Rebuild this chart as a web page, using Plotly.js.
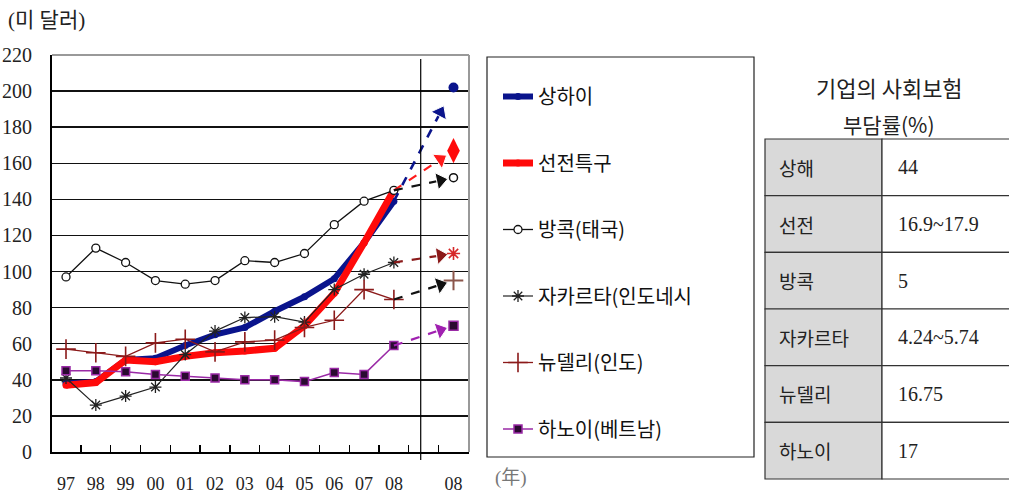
<!DOCTYPE html>
<html><head><meta charset="utf-8">
<script src="https://cdn.plot.ly/plotly-3.0.1.min.js"></script>
<style>html,body{margin:0;padding:0;background:#fff}#chart{width:1009px;height:495px}</style>
</head><body><div id="chart"></div>
<script>
// ---- data ----
const years = ['97','98','99','00','01','02','03','04','05','06','07','08'];
const projLabel = '08';
const seriesNames = ['상하이','선전특구','방콕(태국)','자카르타(인도네시','뉴델리(인도)','하노이(베트남)'];
const shanghai = [38, 39, 51, 52, 59, 65, 69, 78, 86, 96, 116, 139];
const shenzhen = [37, 38.5, 51, 50, 53, 55, 56, 57.5, 70, 88, 116, 145];
const bangkok  = [97, 113, 105, 95, 93, 95, 106, 105, 110, 126, 139, 145];
const jakarta  = [41, 26, 31, 36, 54, 67, 74.5, 75, 72, 90, 98.5, 105];
const delhi    = [57, 55, 53, 60.5, 62.5, 55.5, 61, 62, 69, 73, 90, 84.5];
const hanoi    = [45, 45, 44.5, 43, 42, 41, 40, 40, 39, 44, 43, 59];
const projValues = [202, 167, 152, 110, 95, 70];
const yTicks = [0, 20, 40, 60, 80, 100, 120, 140, 160, 180, 200, 220];
const tableTitle = ['기업의 사회보험', '부담률(%)'];
const tableCities = ['상해', '선전', '방콕', '자카르타', '뉴델리', '하노이'];
const tableRates = ['44', '16.9~17.9', '5', '4.24~5.74', '16.75', '17'];

// ---- styles ----
const seriesData = [shanghai, shenzhen, bangkok, jakarta, delhi, hanoi];
const styles = [
  {line:{color:'#0a148c', width:6}, marker:{symbol:'circle', size:7, color:'#0a148c'}, arrow:'#0a148c', proj:{symbol:'circle', size:10, color:'#0a148c'}},
  {line:{color:'#ff0a0a', width:7}, marker:{symbol:'circle', size:7, color:'#ff0a0a'}, arrow:'#ff1a1a', proj:{symbol:'diamond-tall', size:18, color:'#ff0a0a'}},
  {line:{color:'#111', width:1.3}, marker:{symbol:'circle', size:8, color:'#fff', line:{color:'#111', width:1.3}}, arrow:'#111', proj:{symbol:'circle', size:8, color:'#fff', line:{color:'#111', width:1.5}}},
  {line:{color:'#222', width:1.2}, marker:{symbol:'asterisk-open', size:10, line:{color:'#111', width:1.3}}, arrow:'#8b1a1a', proj:{symbol:'asterisk-open', size:11, line:{color:'#222', width:1.6}}},
  {line:{color:'#8b1a1a', width:1.3}, marker:{symbol:'cross-thin-open', size:14, line:{color:'#8b1a1a', width:1.6}}, arrow:'#111', proj:{symbol:'cross-thin-open', size:14, line:{color:'#8b1a1a', width:2}}},
  {line:{color:'#9a2aa6', width:1.5}, marker:{symbol:'square', size:8, color:'#2a0a30', line:{color:'#9a2aa6', width:1.5}}, arrow:'#a020b0', proj:{symbol:'square', size:9, color:'#2a0a30', line:{color:'#9a2aa6', width:1.5}}}
];

const xIdx = years.map((_, i) => i);
const last = years.length - 1;
const projX = years.length + 1;
const frac = 0.78;

const traces = [];
seriesData.forEach((vals, k) => {
  const st = styles[k];
  traces.push({
    type:'scatter', mode:'lines+markers', name:seriesNames[k], legendgroup:'g'+k,
    x:xIdx, y:vals, line:st.line, marker:st.marker, cliponaxis:false
  });
});
seriesData.forEach((vals, k) => {
  const st = styles[k];
  const v0 = vals[last];
  traces.push({
    type:'scatter', mode:'lines+markers', showlegend:false, hoverinfo:'skip',
    x:[last, last + frac*(projX-last)], y:[v0, v0 + frac*(projValues[k]-v0)],
    line:{color:st.arrow, width:k===0?2.6:2.2, dash:'dash'},
    marker:{symbol:'triangle-up', angleref:'previous', size:[0, 15], color:st.arrow, opacity:1}
  });
  traces.push({
    type:'scatter', mode:'markers', showlegend:false, hoverinfo:'skip',
    x:[projX], y:[projValues[k]], marker:st.proj, cliponaxis:false
  });
});

// ---- layout ----
const W = 1009, H = 495;
const px = v => v / W, py = v => 1 - v / H;
const shapes = [
  {type:'line', xref:'x domain', yref:'y domain', x0:0, x1:1, y0:1, y1:1, line:{color:'#999', width:2}},
  {type:'line', xref:'x domain', yref:'y domain', x0:1, x1:1, y0:0, y1:1, line:{color:'#999', width:2}},
  {type:'line', xref:'x', yref:'y domain', x0:11.9, x1:11.9, y0:-0.02, y1:0.99, line:{color:'#000', width:1.2}},
  {type:'rect', xref:'paper', yref:'paper', x0:px(487), x1:px(754), y0:py(457), y1:py(57), line:{color:'#222', width:1.2}}
];
const annotations = [
  {xref:'paper', yref:'paper', x:px(6), y:py(20), xanchor:'left', yanchor:'middle', showarrow:false, text:'(미 달러)', font:{family:'Liberation Serif, Noto Sans CJK KR', size:21, color:'#222'}},
  {xref:'paper', yref:'paper', x:px(511), y:py(478), xanchor:'center', yanchor:'middle', showarrow:false, text:'(年)', font:{family:'Liberation Serif, Noto Sans CJK KR', size:19, color:'#777'}},
  {xref:'paper', yref:'paper', x:px(889), y:py(87), xanchor:'center', yanchor:'middle', showarrow:false, text:tableTitle[0], font:{family:'Noto Sans CJK KR', size:22, color:'#222'}},
  {xref:'paper', yref:'paper', x:px(889), y:py(124), xanchor:'center', yanchor:'middle', showarrow:false, text:tableTitle[1], font:{family:'Noto Sans CJK KR', size:21, color:'#222'}}
];
const tTop = 139, tBot = 479, tL = 765, tMid = 882, tR = 1012;
const rowH = (tBot - tTop) / tableCities.length;
tableCities.forEach((c, i) => {
  const y0 = tTop + i*rowH, y1 = y0 + rowH;
  shapes.push({type:'rect', xref:'paper', yref:'paper', x0:px(tL), x1:px(tMid), y0:py(y1), y1:py(y0), fillcolor:'#d9d9d9', line:{color:'#333', width:1.2}, layer:'below'});
  shapes.push({type:'rect', xref:'paper', yref:'paper', x0:px(tMid), x1:px(tR), y0:py(y1), y1:py(y0), fillcolor:'#fff', line:{color:'#333', width:1.2}, layer:'below'});
  annotations.push({xref:'paper', yref:'paper', x:px(tL+12), y:py(y0+rowH/2), xanchor:'left', yanchor:'middle', showarrow:false, text:c, font:{family:'Noto Sans CJK KR', size:19, color:'#222'}});
  annotations.push({xref:'paper', yref:'paper', x:px(tMid+14), y:py(y0+rowH/2), xanchor:'left', yanchor:'middle', showarrow:false, text:tableRates[i], font:{family:'Liberation Serif, Noto Sans CJK KR', size:20, color:'#222'}});
});

const layout = {
  width:W, height:H, margin:{l:0, r:0, t:0, b:0},
  paper_bgcolor:'#fff', plot_bgcolor:'#fff', showlegend:true,
  xaxis:{
    domain:[px(52), px(469)], range:[-0.47, 13.52], tickmode:'array',
    tickvals:[...xIdx, projX], ticktext:[...years, projLabel], ticks:'',
    showgrid:false, zeroline:false, showline:true, linecolor:'#000', linewidth:2,
    ticklabelstandoff:14, tickfont:{family:'Liberation Serif', size:18, color:'#222'},
    minor:{tickmode:'linear', tick0:0.5, dtick:1, ticks:'inside', ticklen:7, tickcolor:'#000', tickwidth:1.3, showgrid:false}
  },
  yaxis:{
    domain:[1 - 452/H, 1 - 55/H], range:[0, 220], tickmode:'array', tickvals:yTicks,
    showgrid:true, gridcolor:'#111', gridwidth:1.4, zeroline:false,
    showline:true, linecolor:'#000', linewidth:2, ticks:'',
    ticklabelstandoff:14, tickfont:{family:'Liberation Serif', size:20, color:'#222'}
  },
  legend:{
    x:px(498), y:py(77), xref:'paper', yref:'paper', xanchor:'left', yanchor:'top',
    bgcolor:'rgba(0,0,0,0)', borderwidth:0, tracegroupgap:37.5, itemwidth:30,
    font:{family:'Noto Sans CJK KR', size:20, color:'#111'}
  },
  shapes, annotations
};
Plotly.newPlot('chart', traces, layout, {displayModeBar:false, staticPlot:true});
</script></body></html>
